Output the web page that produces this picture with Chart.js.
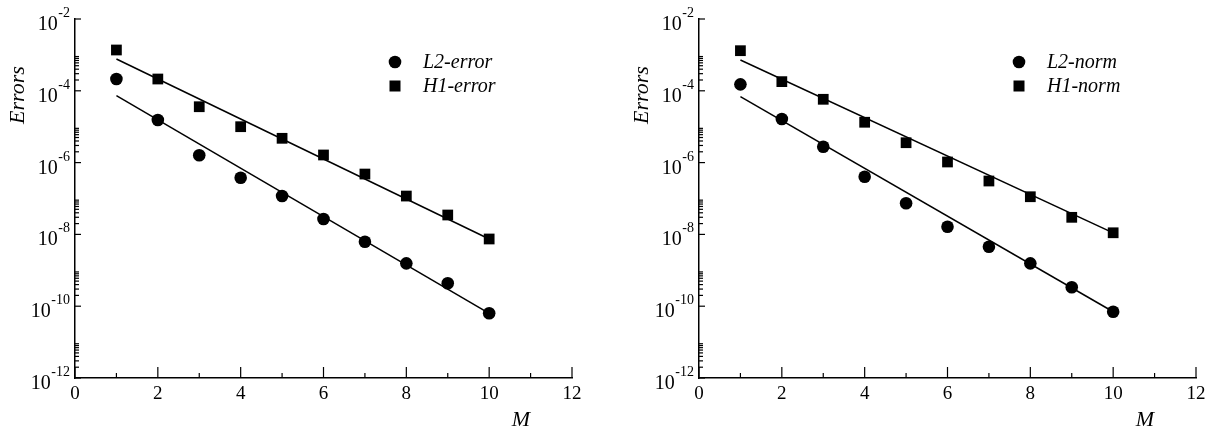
<!DOCTYPE html>
<html><head><meta charset="utf-8">
<script src="https://cdn.jsdelivr.net/npm/chart.js@4.4.0/dist/chart.umd.min.js"></script>
<style>body{margin:0;background:#fff;} canvas{position:absolute;top:0;}</style>
</head><body>
<canvas id="left" width="609" height="432" style="left:0px"></canvas>
<canvas id="right" width="609" height="432" style="left:609px"></canvas>
<script>
// ---- data ----
const M = [1, 2, 3, 4, 5, 6, 7, 8, 9, 10];
const fitM = [1, 10];
const xTickValues = [0, 2, 4, 6, 8, 10, 12];
const yTickExponents = [-12, -10, -8, -6, -4, -2];

const leftL2Error = [2.13e-4, 1.54e-5, 1.6e-6, 3.8e-7, 1.17e-7, 2.69e-8, 6.27e-9, 1.56e-9, 4.35e-10, 6.34e-11];
const leftH1Error = [1.37e-3, 2.13e-4, 3.6e-5, 1.0e-5, 4.75e-6, 1.63e-6, 4.8e-7, 1.17e-7, 3.47e-8, 7.45e-9];
const leftL2Fit = [7.3e-5, 6.3e-11];
const leftH1Fit = [7.7e-4, 7.45e-9];

const rightL2Norm = [1.51e-4, 1.64e-5, 2.77e-6, 4.05e-7, 7.35e-8, 1.64e-8, 4.54e-9, 1.56e-9, 3.36e-10, 7.03e-11];
const rightH1Norm = [1.31e-3, 1.8e-4, 5.8e-5, 1.33e-5, 3.58e-6, 1.04e-6, 3.07e-7, 1.12e-7, 2.99e-8, 1.11e-8];
const rightL2Fit = [6.86e-5, 7.0e-11];
const rightH1Fit = [7.2e-4, 1.1e-8];

const FONT = '"Liberation Serif", "Times New Roman", serif';

const pts = (xs, ys) => xs.map((x, i) => ({ x: x, y: ys[i] }));

const decor = {
  id: 'decor',
  afterDraw(chart) {
    const { ctx, chartArea: a, scales: { x, y } } = chart;
    const o = chart.options.plugins.decor;
    ctx.save();
    ctx.strokeStyle = '#000';
    ctx.fillStyle = '#000';
    ctx.lineWidth = 1.2;
    const line = (x1, y1, x2, y2) => { ctx.beginPath(); ctx.moveTo(x1, y1); ctx.lineTo(x2, y2); ctx.stroke(); };
    // x ticks (inside)
    for (let v = 0; v <= 12; v++) {
      const px = x.getPixelForValue(v);
      line(px, a.bottom, px, a.bottom - (v % 2 === 0 ? 11 : 5));
    }
    // y ticks (inside)
    yTickExponents.forEach(e => {
      const py = y.getPixelForValue(Math.pow(10, e));
      line(a.left, py, a.left + 6, py);
      if (e < -2) {
        for (let k = 2; k <= 9; k++) {
          const pm = y.getPixelForValue(k * Math.pow(10, e));
          line(a.left, pm, a.left + 4, pm);
        }
      }
    });
    // y labels with superscripts
    yTickExponents.forEach(e => {
      const py = y.getPixelForValue(Math.pow(10, e));
      const sup = String(e);
      ctx.font = '14px ' + FONT;
      const w2 = ctx.measureText(sup).width;
      ctx.font = '20px ' + FONT;
      const w1 = ctx.measureText('10').width;
      const right = a.left - 5;
      ctx.textAlign = 'left';
      ctx.textBaseline = 'alphabetic';
      ctx.fillText('10', right - w2 - w1 - 0.5, py + 11);
      ctx.font = '14px ' + FONT;
      ctx.fillText(sup, right - w2, py - 2);
    });
    // axis titles
    ctx.font = 'italic 22px ' + FONT;
    ctx.textAlign = 'center';
    ctx.textBaseline = 'middle';
    ctx.fillText('M', a.right - 51, 420);
    ctx.save();
    ctx.translate(a.left - 57, 95);
    ctx.rotate(-Math.PI / 2);
    ctx.fillText('Errors', 0, 0);
    ctx.restore();
    // legend
    const lx = a.left + 320;
    ctx.beginPath();
    ctx.arc(lx, 62, 6.3, 0, Math.PI * 2);
    ctx.fill();
    ctx.fillRect(lx - 5.5, 80.5, 11, 11);
    ctx.font = 'italic 20px ' + FONT;
    ctx.textAlign = 'left';
    ctx.textBaseline = 'alphabetic';
    ctx.fillText(o.l2Label, a.left + 348, 68);
    ctx.fillText(o.h1Label, a.left + 348, 92);
    ctx.restore();
  }
};

function build(id, o) {
  return new Chart(document.getElementById(id), {
    type: 'scatter',
    data: {
      datasets: [
        { label: o.l2Label, data: pts(M, o.l2), pointStyle: 'circle', pointRadius: 6.3, pointBackgroundColor: '#000', pointBorderColor: '#000', pointBorderWidth: 0, showLine: false },
        { label: o.h1Label, data: pts(M, o.h1), pointStyle: 'rect', pointRadius: 7.6, pointBackgroundColor: '#000', pointBorderColor: '#000', pointBorderWidth: 0, showLine: false },
        { label: 'fit L2', data: pts(fitM, o.l2Fit), showLine: true, pointRadius: 0, borderColor: '#000', borderWidth: 1.5, fill: false },
        { label: 'fit H1', data: pts(fitM, o.h1Fit), showLine: true, pointRadius: 0, borderColor: '#000', borderWidth: 1.5, fill: false }
      ]
    },
    options: {
      responsive: false,
      animation: false,
      devicePixelRatio: 1,
      layout: { padding: { left: 0, right: o.padRight, top: 19, bottom: 0 } },
      plugins: { legend: { display: false }, tooltip: { enabled: false }, decor: { l2Label: o.l2Label, h1Label: o.h1Label } },
      scales: {
        x: {
          type: 'linear', min: 0, max: 12,
          grid: { display: false, drawTicks: false },
          border: { display: true, color: '#000', width: 1.5 },
          afterBuildTicks(s) { s.ticks = xTickValues.map(v => ({ value: v })); },
          ticks: { color: '#000', font: { family: FONT, size: 19 }, padding: 5, maxRotation: 0, autoSkip: false },
          afterFit(s) { s.height = 54; }
        },
        y: {
          type: 'logarithmic', min: 1e-12, max: 1e-2,
          grid: { display: false, drawTicks: false },
          border: { display: true, color: '#000', width: 1.5 },
          ticks: { display: false },
          afterFit(s) { s.width = o.yWidth; }
        }
      }
    },
    plugins: [decor]
  });
}

build('left', { l2: leftL2Error, h1: leftH1Error, l2Fit: leftL2Fit, h1Fit: leftH1Fit, l2Label: 'L2-error', h1Label: 'H1-error', yWidth: 75, padRight: 37 });
build('right', { l2: rightL2Norm, h1: rightH1Norm, l2Fit: rightL2Fit, h1Fit: rightH1Fit, l2Label: 'L2-norm', h1Label: 'H1-norm', yWidth: 90, padRight: 22 });
</script>
</body></html>
